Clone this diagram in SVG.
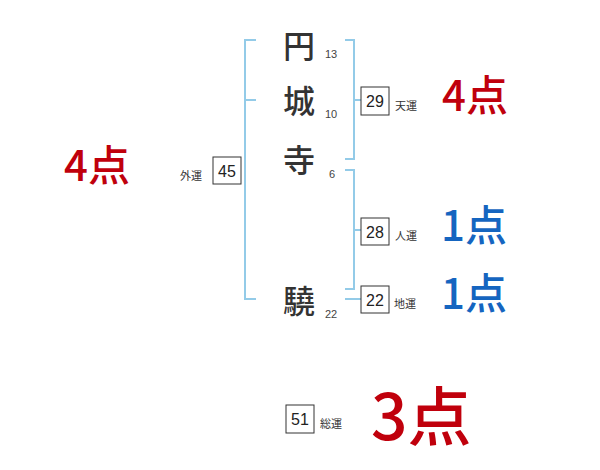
<svg xmlns="http://www.w3.org/2000/svg" width="600" height="470" viewBox="0 0 600 470">
<style>
.br{fill:none;stroke:#93cbe8;stroke-width:2}
.box{fill:#fff;stroke:#333;stroke-width:1}
.bn{font-family:"Liberation Sans","Noto Sans CJK JP",sans-serif;font-size:16px;fill:#222;text-anchor:middle}
.lb{font-family:"Noto Sans CJK JP",sans-serif;font-size:11px;fill:#333}
.ch{font-family:"Noto Sans CJK JP",sans-serif;font-size:32px;font-weight:500;fill:#333;text-anchor:middle}
.sn{font-family:"Liberation Sans","Noto Sans CJK JP",sans-serif;font-size:11px;fill:#444}
.red{font-family:"Noto Sans CJK JP",sans-serif;font-weight:500;fill:#c0000c}
.blue{font-family:"Noto Sans CJK JP",sans-serif;font-weight:500;fill:#1565c0}
</style>
<rect width="600" height="470" fill="#fff"/>
<g id="connectors">
<path class="br" d="M256,40 H245 V299 H256 M245,100 H256"/>
<path class="br" d="M345,40 H354 V159 H345 M354,100 H362"/>
<path class="br" d="M345,170 H354 V289 H345 M354,230 H362"/>
<path class="br" d="M345,299 H362"/>
</g>
<g id="char1"><text class="ch" x="299" y="58">円</text><text class="sn" x="325" y="58">13</text></g>
<g id="char2"><text class="ch" x="299" y="113">城</text><text class="sn" x="325" y="118">10</text></g>
<g id="char3"><text class="ch" x="299" y="172">寺</text><text class="sn" x="329" y="178">6</text></g>
<g id="char4"><text class="ch" x="299" y="313">驍</text><text class="sn" x="325" y="318">22</text></g>
<g id="gaiun"><text class="lb" x="180" y="180">外運</text><rect class="box" x="213" y="157" width="28" height="27"/><text class="bn" x="227" y="177">45</text></g>
<g id="tenun"><rect class="box" x="361" y="87" width="28" height="28"/><text class="bn" x="375" y="107">29</text><text class="lb" x="395" y="110">天運</text></g>
<g id="jinun"><rect class="box" x="361" y="218" width="28" height="27"/><text class="bn" x="375" y="238">28</text><text class="lb" x="395" y="240">人運</text></g>
<g id="chiun"><rect class="box" x="361" y="286" width="28" height="27"/><text class="bn" x="375" y="306">22</text><text class="lb" x="394" y="308">地運</text></g>
<g id="souun"><rect class="box" x="286" y="405" width="28" height="28"/><text class="bn" x="300" y="425">51</text><text class="lb" x="320" y="428">総運</text></g>
<g id="score-gaiun"><text class="red" x="64" y="181" font-size="42">4点</text></g>
<g id="score-tenun"><text class="red" x="442" y="111" font-size="42">4点</text></g>
<g id="score-jinun"><text class="blue" x="441" y="241" font-size="42">1点</text></g>
<g id="score-chiun"><text class="blue" x="441" y="309" font-size="42">1点</text></g>
<g id="score-souun"><text class="red" x="371" y="440" font-size="64">3点</text></g>
</svg>
